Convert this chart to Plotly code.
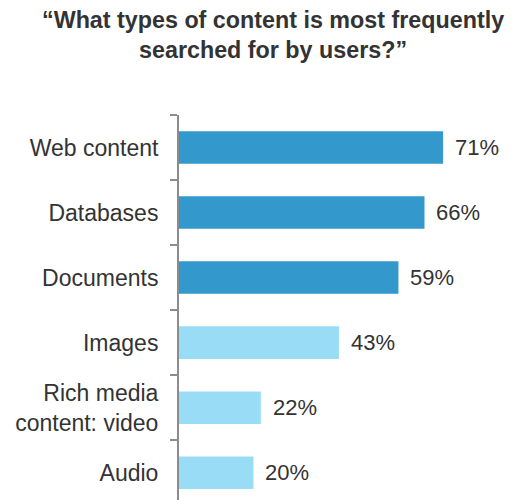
import plotly.graph_objects as go

categories = ["Web content", "Databases", "Documents", "Images",
              "Rich media<br>content: video", "Audio"]
values = [71, 66, 59, 43, 22, 20]
colors = ["#3399cc", "#3399cc", "#3399cc", "#99dcf6", "#99dcf6", "#99dcf6"]
labels = [f"{v}%" for v in values]
title_text = "<b>“What types of content is most frequently<br>searched for by users?”</b>"

FONT = "Liberation Sans, Arial"

fig = go.Figure()
fig.add_trace(go.Bar(
    x=values, y=categories, orientation="h",
    marker=dict(color=colors, line=dict(width=0)),
    width=0.5, hoverinfo="skip",
))
for c, v, t in zip(categories, values, labels):
    fig.add_annotation(x=v, y=c, text=t, xanchor="left", yanchor="middle",
                       xshift=10, showarrow=False,
                       font=dict(family=FONT, size=22, color="#333333"))

fig.add_annotation(
    text=title_text, xref="paper", yref="paper",
    x=0.28, y=1.285, xanchor="center", yanchor="top", showarrow=False,
    font=dict(family=FONT, size=23.3, color="#333333"),
)

fig.update_layout(
    width=513, height=500,
    margin=dict(l=179, r=0, t=115, b=0),
    paper_bgcolor="white", plot_bgcolor="white",
    showlegend=False,
    xaxis=dict(range=[0, 89.8], visible=False, fixedrange=True),
    yaxis=dict(
        range=[5.42, -0.5], type="category",
        showline=True, linecolor="#8c8c8c", linewidth=2,
        ticks="outside", ticklen=7, tickcolor="#8c8c8c", tickwidth=1.5,
        tickson="boundaries", showgrid=False, zeroline=False,
        tickfont=dict(family=FONT, size=23, color="#333333"),
        ticklabelstandoff=14,
    ),
)

fig.write_html("out.html")
